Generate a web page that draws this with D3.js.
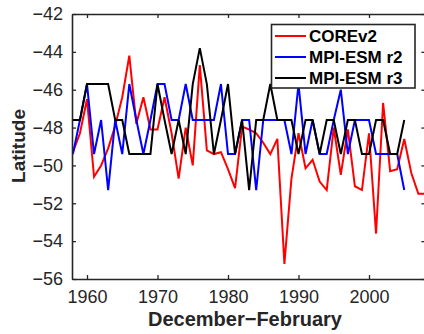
<!DOCTYPE html>
<html><head><meta charset="utf-8">
<script src="https://cdn.jsdelivr.net/npm/d3@7"></script>
<style>body{margin:0;background:#fff}svg{display:block}</style>
</head><body>
<svg id="c" width="424" height="334"></svg>
<script>
const yearsCORE = d3.range(1958, 2009);
const yearsMPI = d3.range(1958, 2006);
const coreV2 = [-49.3,-48.3,-46.5,-50.6,-50.0,-49.1,-47.9,-46.4,-44.2,-47.8,
  -46.4,-48.1,-48.1,-46.4,-48.3,-50.7,-48.0,-50.0,-44.7,-49.2,
  -49.4,-49.3,-50.2,-51.2,-47.95,-48.1,-48.3,-48.8,-49.4,-48.6,
  -55.2,-50.7,-48.3,-50.15,-49.7,-50.85,-51.3,-48.0,-50.5,-48.1,
  -51.1,-51.3,-48.3,-53.6,-46.7,-50.3,-50.2,-48.6,-50.4,-51.5,-51.5];
const mpiR2 = [-49.4,-47.6,-45.7,-49.4,-47.6,-51.3,-47.6,-49.4,-45.7,-47.6,
  -49.4,-47.6,-45.7,-45.7,-47.6,-47.6,-45.7,-47.6,-47.6,-47.6,
  -47.6,-45.7,-49.4,-49.4,-47.6,-47.6,-51.3,-47.6,-47.6,-47.6,
  -47.6,-49.4,-45.7,-49.4,-47.6,-49.4,-49.4,-47.6,-46.0,-49.4,
  -47.6,-47.6,-47.6,-49.4,-49.4,-49.4,-49.4,-51.3];
const mpiR3 = [-47.6,-47.6,-45.7,-45.7,-45.7,-45.7,-47.6,-47.6,-49.4,-49.4,
  -49.4,-49.4,-45.7,-47.6,-49.4,-47.6,-49.4,-45.7,-43.8,-45.7,
  -49.4,-47.6,-45.7,-49.4,-47.6,-51.3,-47.6,-47.6,-45.7,-47.6,
  -47.6,-47.6,-49.4,-47.6,-47.6,-49.4,-47.6,-47.6,-49.4,-47.6,
  -47.6,-49.4,-49.4,-47.6,-47.6,-49.4,-49.4,-47.6];
const seriesNames = ["COREv2","MPI-ESM r2","MPI-ESM r3"];
const seriesColors = ["#ff0000","#0000ff","#000000"];
const xTicks = [1960,1970,1980,1990,2000];
const yTicks = [-56,-54,-52,-50,-48,-46,-44,-42];

const svg = d3.select("#c");
const x = d3.scaleLinear().domain([1958, 2008]).range([72.9, 425.4]);
const y = d3.scaleLinear().domain([-56, -42]).range([279, 14]);
const axCol = "#262626";
const font = "'Liberation Sans', Arial, sans-serif";

const g = svg.append("g");
svg.append("clipPath").attr("id","clp").append("rect")
  .attr("x", 72).attr("y", 14).attr("width", 353.4).attr("height", 265);

const data = [
  yearsCORE.map((yr,i)=>[yr, coreV2[i]]),
  yearsMPI.map((yr,i)=>[yr, mpiR2[i]]),
  yearsMPI.map((yr,i)=>[yr, mpiR3[i]])
];
const line = d3.line().x(d=>x(d[0])).y(d=>y(d[1]));
data.forEach((d,i)=>{
  g.append("path").datum(d).attr("d", line).attr("fill","none")
   .attr("stroke", seriesColors[i]).attr("stroke-width", 2)
   .attr("stroke-linejoin","miter").attr("clip-path","url(#clp)");
});

function styleAxis(sel){
  sel.select(".domain").attr("stroke", axCol).attr("stroke-width", 1.6);
  sel.selectAll(".tick line").attr("stroke", axCol).attr("stroke-width", 1.3);
  sel.selectAll("text").attr("fill", axCol).attr("font-family", font).attr("font-size", 18);
}
const xb = svg.append("g").attr("transform","translate(0,279)")
  .call(d3.axisBottom(x).tickValues(xTicks).tickFormat(d3.format("d")).tickSizeInner(-4).tickSizeOuter(0).tickPadding(11));
styleAxis(xb);
const xt = svg.append("g").attr("transform","translate(0,14)")
  .call(d3.axisTop(x).tickValues(xTicks).tickFormat("").tickSizeInner(-4).tickSizeOuter(0));
styleAxis(xt);
const yl = svg.append("g").attr("transform","translate(72,0)")
  .call(d3.axisLeft(y).tickValues(yTicks).tickFormat(d3.format("d")).tickSizeInner(-4).tickSizeOuter(0).tickPadding(9));
styleAxis(yl);
const yr = svg.append("g").attr("transform","translate(425.4,0)")
  .call(d3.axisRight(y).tickValues(yTicks).tickFormat("").tickSizeInner(-4).tickSizeOuter(0));
styleAxis(yr);

svg.append("text").attr("x", 245).attr("y", 326).attr("text-anchor","middle")
  .attr("font-family", font).attr("font-weight","bold").attr("font-size", 20)
  .attr("fill", axCol).text("December\u2212February");
svg.append("text").attr("transform","translate(25,146) rotate(-90)").attr("text-anchor","middle")
  .attr("font-family", font).attr("font-weight","bold").attr("font-size", 19)
  .attr("fill", axCol).text("Latitude");

const lg = svg.append("g");
lg.append("rect").attr("x", 271.5).attr("y", 24.5).attr("width", 143.5).attr("height", 63.5)
  .attr("fill","#fff").attr("stroke","#262626").attr("stroke-width", 1.6);
seriesNames.forEach((n,i)=>{
  const yy = 36 + i*21;
  lg.append("line").attr("x1", 275).attr("x2", 306).attr("y1", yy).attr("y2", yy)
    .attr("stroke", seriesColors[i]).attr("stroke-width", 2);
  lg.append("text").attr("x", 309).attr("y", yy).attr("dy","0.36em")
    .attr("font-family", font).attr("font-weight","bold").attr("font-size", 17)
    .attr("fill","#000").text(n);
});
</script>
</body></html>
